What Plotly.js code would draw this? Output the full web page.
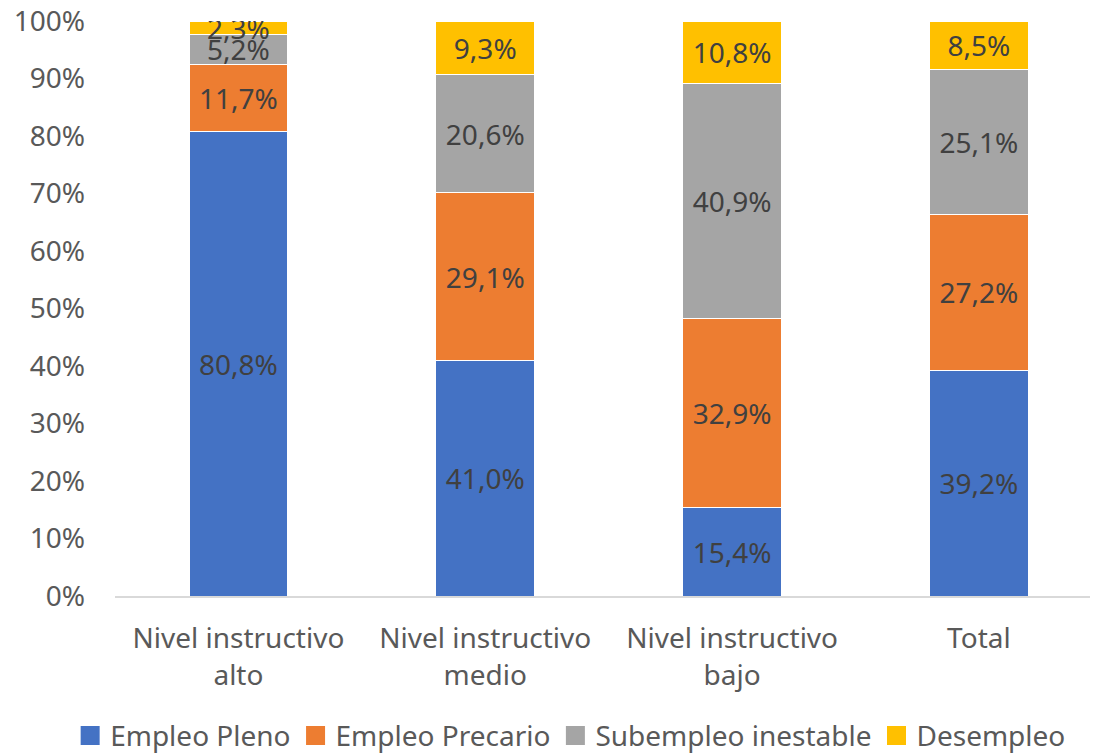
<!DOCTYPE html>
<html>
<head>
<meta charset="utf-8">
<script src="https://cdn.plot.ly/plotly-3.0.1.min.js"></script>
<style>html,body{margin:0;padding:0;background:#fff;}#chart{width:1094px;height:754px;}</style>
</head>
<body>
<div id="chart"></div>
<script>
var categories = ["Nivel instructivo<br>alto", "Nivel instructivo<br>medio", "Nivel instructivo<br>bajo", "Total"];
var seriesNames = ["Empleo Pleno", "Empleo Precario", "Subempleo inestable", "Desempleo"];
var empleoPleno = [80.8, 41.0, 15.4, 39.2];
var empleoPrecario = [11.7, 29.1, 32.9, 27.2];
var subempleo = [5.2, 20.6, 40.9, 25.1];
var desempleo = [2.3, 9.3, 10.8, 8.5];
var colors = ["#4472C4", "#ED7D31", "#A5A5A5", "#FFC000"];
var yTicks = [0,10,20,30,40,50,60,70,80,90,100];

var FONT = "Noto Sans, Open Sans, sans-serif";
var FS = 28;
function fmt(v){ return v.toFixed(1).replace('.', ',') + '%'; }
var allSeries = [empleoPleno, empleoPrecario, subempleo, desempleo];
var xIdx = categories.map(function(_, i){ return i; });
var traces = allSeries.map(function(vals, k){
  return {
    type: 'bar',
    name: seriesNames[k],
    x: xIdx,
    y: vals,
    width: 0.4,
    showlegend: false,
    marker: {color: colors[k], line: {color: '#ffffff', width: 1}},
    text: vals.map(fmt),
    textposition: 'inside',
    insidetextanchor: 'middle',
    constraintext: 'none',
    textfont: {family: FONT, size: FS, color: '#404040'},
    hoverinfo: 'none'
  };
});
// legend entries (square swatches)
seriesNames.forEach(function(n, k){
  traces.push({
    type: 'scatter', mode: 'markers', name: n,
    x: [null], y: [null], showlegend: true,
    marker: {symbol: 'square', size: 16, color: colors[k], line: {color: colors[k], width: 3}},
    hoverinfo: 'none'
  });
});

var layout = {
  width: 1094, height: 754,
  barmode: 'stack',
  margin: {l: 115, r: 4, t: 21, b: 158, autoexpand: false},
  paper_bgcolor: '#ffffff', plot_bgcolor: '#ffffff',
  font: {family: FONT, size: FS, color: '#595959'},
  showlegend: true,
  xaxis: {
    tickmode: 'array', tickvals: xIdx, ticktext: categories,
    range: [-0.5, 3.45],
    showgrid: false, zeroline: false,
    showline: true, linecolor: '#D9D9D9', linewidth: 1.5,
    ticks: '', tickfont: {family: FONT, size: FS, color: '#595959'},
    ticklabelstandoff: 17
  },
  yaxis: {
    range: [0, 100],
    tickmode: 'array', tickvals: yTicks, ticktext: yTicks.map(function(t){return t + '%';}),
    showgrid: false, zeroline: false, showline: false, ticks: '',
    tickfont: {family: FONT, size: FS, color: '#595959'},
    ticklabelstandoff: 29
  },
  legend: {
    orientation: 'h', x: -0.046, xanchor: 'left',
    y: -0.243, yanchor: 'middle',
    font: {family: FONT, size: FS, color: '#595959'},
    traceorder: 'normal', itemclick: false, itemwidth: 30
  }
};
Plotly.newPlot('chart', traces, layout, {displayModeBar: false, staticPlot: true});
</script>
</body>
</html>
